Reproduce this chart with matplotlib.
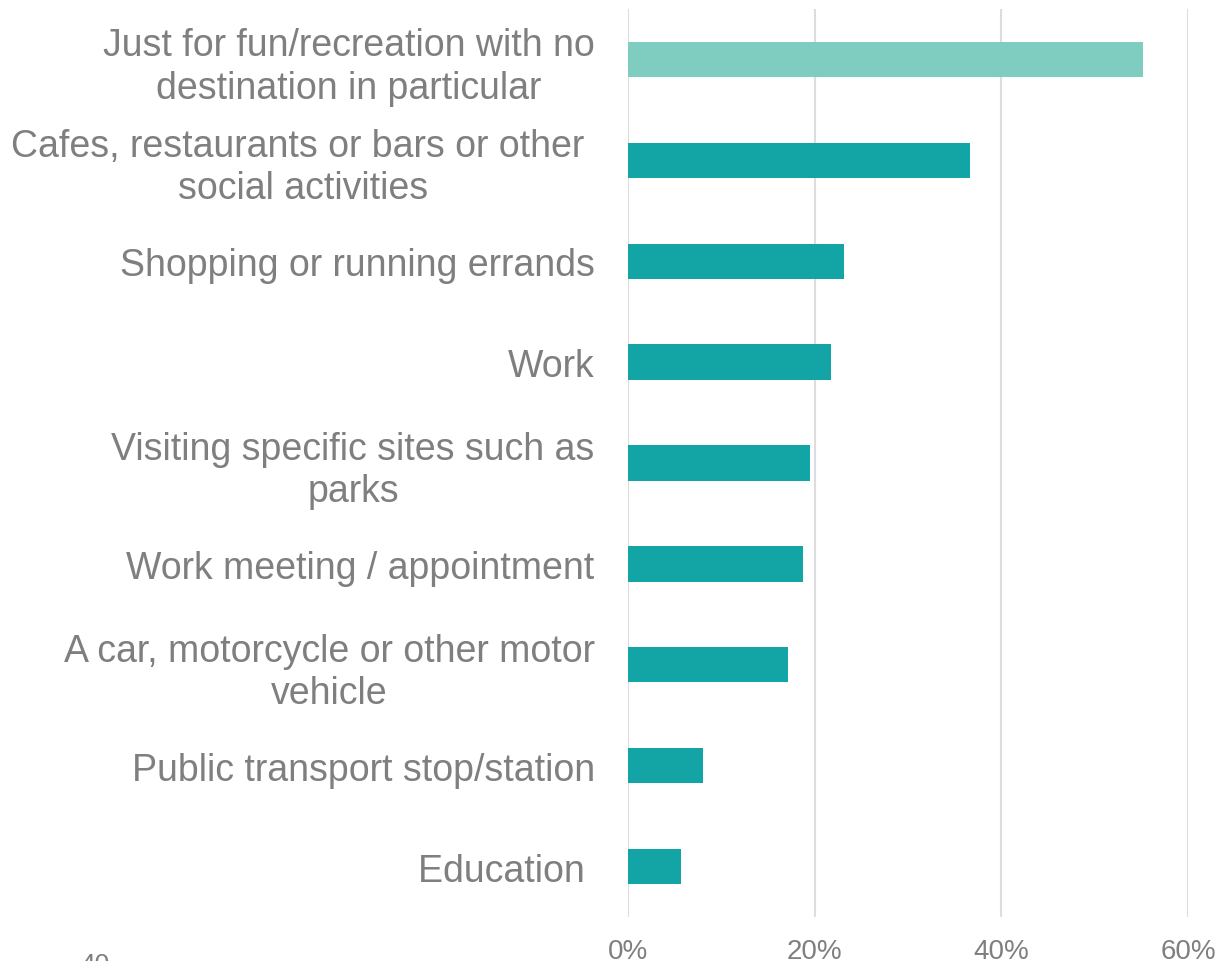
import matplotlib.pyplot as plt

# === DATA ===
categories = [
    "Just for fun/recreation with no\ndestination in particular",
    "Cafes, restaurants or bars or other \nsocial activities",
    "Shopping or running errands",
    "Work",
    "Visiting specific sites such as\nparks",
    "Work meeting / appointment",
    "A car, motorcycle or other motor\nvehicle",
    "Public transport stop/station",
    "Education ",
]
values = [55.2, 36.6, 23.1, 21.8, 19.5, 18.8, 17.1, 8.0, 5.7]
xticks = [0, 20, 40, 60]
xtick_labels = ["0%", "20%", "40%", "60%"]

# === STYLE ===
plt.rcParams['font.family'] = ['Liberation Sans', 'DejaVu Sans']
GREY = '#7F7F7F'
TEAL = '#13A5A5'
TEAL_LIGHT = '#7FCDC0'

W, H = 1218, 962
fig = plt.figure(figsize=(W / 100, H / 100), dpi=100)
ax = fig.add_axes([628 / W, 1 - 918 / H, (1188 - 628) / W, (918 - 10) / H])

colors = [TEAL_LIGHT] + [TEAL] * (len(values) - 1)
ypos = list(range(len(values)))
ax.barh(ypos, values, height=0.35, color=colors, zorder=3)

ax.set_xlim(0, 60)
ax.set_ylim(len(values) - 0.5, -0.5)

ax.set_xticks(xticks)
ax.set_xticklabels(xtick_labels, fontsize=20, color=GREY)
ax.set_yticks(ypos)
ax.set_yticklabels(categories, fontsize=27, color=GREY)
for lbl in ax.get_yticklabels():
    lbl.set_multialignment('center')
    lbl.set_linespacing(1.22)

ax.tick_params(axis='both', length=0)
ax.tick_params(axis='y', pad=24)
ax.tick_params(axis='x', pad=15)

ax.grid(axis='x', color='#DDDDDD', linewidth=1.5, zorder=0)
for s in ax.spines.values():
    s.set_visible(False)

# clipped stray label in the bottom-left corner
fig.text(95 / W, 1 - 953 / H, "40", fontsize=19, color=GREY, ha='center', va='top')

fig.savefig("out.png", dpi=100)
